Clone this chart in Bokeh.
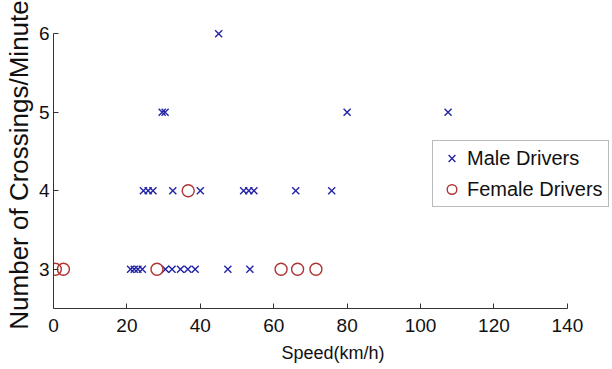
from bokeh.plotting import figure
from bokeh.models import FixedTicker, Legend, LegendItem, Range1d
from bokeh.embed import file_html
from bokeh.resources import INLINE

# ---- data ----
male_speed = [45, 29.6, 30.4, 80, 107.5,
              24.5, 25.8, 27.1, 32.5, 40, 51.8, 53.2, 54.6, 66, 75.8,
              21, 22, 23, 24.2, 30.5, 32.3, 34.6, 36.6, 38.6, 47.5, 53.5]
male_cross = [6, 5, 5, 5, 5,
              4, 4, 4, 4, 4, 4, 4, 4, 4, 4,
              3, 3, 3, 3, 3, 3, 3, 3, 3, 3, 3]
female_speed = [36.7, 0.5, 2.7, 28.2, 62, 66.5, 71.5]
female_cross = [4, 3, 3, 3, 3, 3, 3]
x_ticks = [0, 20, 40, 60, 80, 100, 120, 140]
y_ticks = [3, 4, 5, 6]

FONT = "Liberation Sans"
BLUE = "#2424a8"
RED = "#b03434"

p = figure(width=612, height=369, output_backend="svg", toolbar_location=None,
           x_range=Range1d(0, 152.3), y_range=Range1d(2.5, 6.156),
           min_border_left=53, min_border_right=0, min_border_top=21,
           min_border_bottom=61)
p.outline_line_color = None
p.xgrid.grid_line_color = None
p.ygrid.grid_line_color = None
p.background_fill_color = "white"
p.border_fill_color = "white"

r_m = p.scatter(male_speed, male_cross, marker="x", size=10, line_color=BLUE, line_width=1.4)
r_f = p.scatter(female_speed, female_cross, marker="circle", size=12, fill_color=None,
                line_color=RED, line_width=1.4)

for ax in (p.xaxis[0], p.yaxis[0]):
    ax.axis_line_color = "#333333"
    ax.major_tick_line_color = "#333333"
    ax.major_tick_in = 5
    ax.major_tick_out = 0
    ax.minor_tick_line_color = None
    ax.major_label_text_font = FONT
    ax.major_label_text_font_size = "19px"
    ax.major_label_text_color = "#111111"
    ax.axis_label_text_font = FONT
    ax.axis_label_text_font_style = "normal"
    ax.axis_label_text_color = "#111111"

p.xaxis.bounds = (0, 140)
p.yaxis.bounds = (2.5, 6)
p.xaxis.ticker = FixedTicker(ticks=x_ticks)
p.yaxis.ticker = FixedTicker(ticks=y_ticks)
p.xaxis.axis_label = "Speed(km/h)"
p.xaxis.axis_label_text_font_size = "18px"
p.xaxis.major_label_standoff = 10
p.xaxis.axis_label_standoff = 8
p.yaxis.axis_label = "Number of Crossings/Minute"
p.yaxis.axis_label_text_font_size = "26px"
p.yaxis.major_label_standoff = 4
p.yaxis.axis_label_standoff = 2

legend = Legend(items=[LegendItem(label="Male Drivers", renderers=[r_m]),
                       LegendItem(label="Female Drivers", renderers=[r_f])],
                location=(379, 101), orientation="vertical")
legend.label_text_font = FONT
legend.label_text_font_size = "20px"
legend.label_text_color = "#111111"
legend.border_line_color = "#777777"
legend.border_line_width = 1.5
legend.background_fill_color = "white"
legend.background_fill_alpha = 1
legend.padding = 5
legend.spacing = 7
legend.margin = 0
legend.glyph_width = 27
legend.glyph_height = 24
legend.label_height = 24
legend.label_standoff = 2
p.add_layout(legend, "center")

open("out.html", "w").write(file_html(p, INLINE))
